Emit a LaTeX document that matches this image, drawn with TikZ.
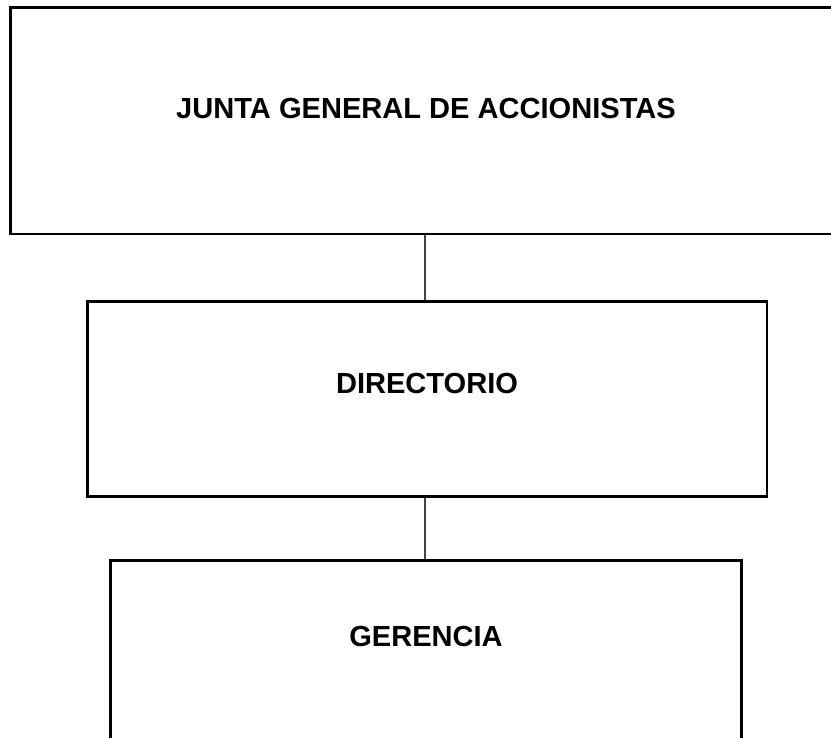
\documentclass[tikz,border=0pt]{standalone}
\usepackage{fontspec}
\setmainfont{Liberation Sans}
\usepackage{tikz}
\usetikzlibrary{positioning}
\definecolor{cLink}{RGB}{68,68,68}
\tikzset{
	orgbox/.style ={rectangle, draw=black, line width=2pt, inner sep=0pt, fill=white},
	orgtext/.style={font=\fontsize{21.8}{26}\selectfont\bfseries, inner sep=0pt, align=center},
	link/.style   ={draw=cLink, line width=1pt},
}
\begin{document}
\begin{tikzpicture}[x=0.75pt, y=-0.75pt]
			\useasboundingbox (0,0) rectangle (831,738);
			\clip (0,0) rectangle (831,738);
			\coordinate (axis) at (425,0);
			% boxes (sizes in pt)
			\node[orgbox, minimum width=618.2pt, minimum height=169.9pt] (junta) at (422.85,120.75) {};
			\node[orgbox, minimum width=509.8pt, minimum height=146.25pt] (directorio) at (427.15,399.2) {};
			\node[orgbox, minimum width=473.55pt, minimum height=164.5pt] (gerencia) at (426,670.35) {};
			% labels
			\node[orgtext] (juntaT) at (426,108) {JUNTA GENERAL DE ACCIONISTAS};
			\node[orgtext] (directorioT) at (427,383) {DIRECTORIO};
			\node[orgtext] (gerenciaT) at (426,636) {GERENCIA};
			% connectors
			\draw[link] (junta.south -| axis) -- (directorio.north -| axis);
			\draw[link] (directorio.south -| axis) -- (gerencia.north -| axis);
		\end{tikzpicture}
\end{document}
